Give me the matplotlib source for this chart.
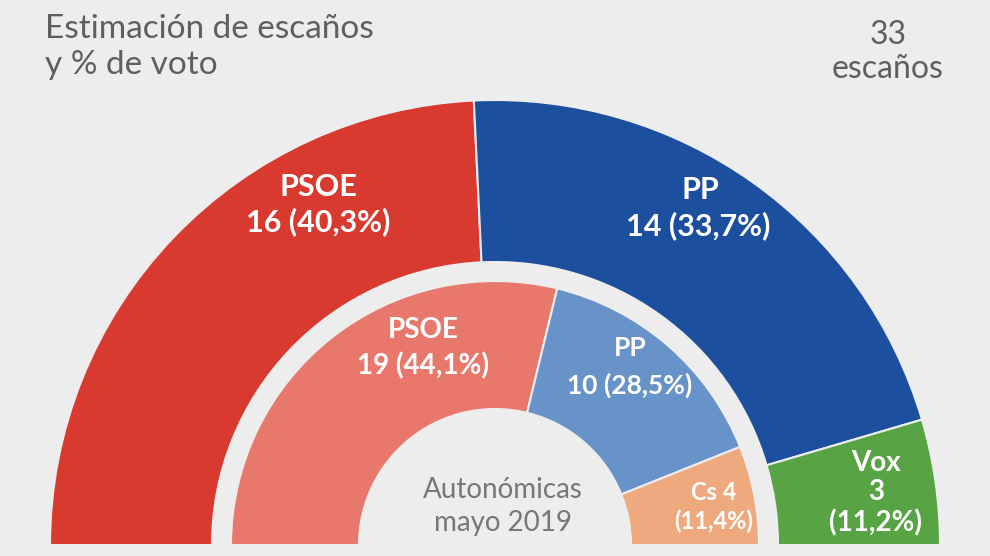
import matplotlib.pyplot as plt

# seats, estimate (outer ring) and May 2019 result (inner ring)
outer_parties = ["PSOE", "PP", "Vox"]
outer_seats = [16, 14, 3]
outer_pct = ["40,3%", "33,7%", "11,2%"]

inner_parties = ["PSOE", "PP", "Cs"]
inner_seats = [19, 10, 4]
inner_pct = ["44,1%", "28,5%", "11,4%"]

total_seats = 33

outer_colors = ["#d93a30", "#1d4f9f", "#58a343"]
inner_colors = ["#e8786c", "#6893c8", "#efa97f"]
bg = "#ededed"
grey = "#5f5f5f"

plt.rcParams['font.family'] = ['Lato', 'DejaVu Sans']

W, H = 990, 556
fig = plt.figure(figsize=(W / 100, H / 100), dpi=100, facecolor=bg)
ax = fig.add_axes([0, 0, 1, 1])
ax.set_facecolor(bg)

cx, cy = 495, 11  # centre of the hemicycle (y measured upward)


def half_ring(values, colors, r, width):
    wedges, _ = ax.pie(values + [sum(values)], colors=colors + ["none"],
                       startangle=180, counterclock=False, radius=r,
                       center=(cx, cy), frame=True,
                       wedgeprops=dict(width=width, edgecolor=bg, linewidth=1.5))
    wedges[-1].set_visible(False)


half_ring(outer_seats, outer_colors, 445, 162)
half_ring(inner_seats, inner_colors, 264, 128)

ax.set_xlim(0, W)
ax.set_ylim(0, H)
ax.set_aspect("equal")
ax.axis("off")


def txt(x, y, s, **kw):
    ax.text(x, H - y, s, ha="center", va="center", **kw)


# outer ring labels
txt(318, 187, outer_parties[0], color="white", fontsize=22, fontweight="bold")
txt(318, 222, f"{outer_seats[0]} ({outer_pct[0]})", color="white", fontsize=22, fontweight="bold")
txt(700, 190, outer_parties[1], color="white", fontsize=22, fontweight="bold")
txt(698, 226, f"{outer_seats[1]} ({outer_pct[1]})", color="white", fontsize=22, fontweight="bold")
txt(876, 463, outer_parties[2], color="white", fontsize=20, fontweight="bold")
txt(876, 492, f"{outer_seats[2]}", color="white", fontsize=20, fontweight="bold")
txt(876, 523, f"({outer_pct[2]})", color="white", fontsize=20, fontweight="bold")

# inner ring labels
txt(423, 330, inner_parties[0], color="white", fontsize=20, fontweight="bold")
txt(423, 366, f"{inner_seats[0]} ({inner_pct[0]})", color="white", fontsize=20, fontweight="bold")
txt(630, 348, inner_parties[1], color="white", fontsize=19, fontweight="bold")
txt(630, 385, f"{inner_seats[1]} ({inner_pct[1]})", color="white", fontsize=19, fontweight="bold")
txt(714, 492, f"{inner_parties[2]} {inner_seats[2]}", color="white", fontsize=17, fontweight="bold")
txt(714, 521, f"({inner_pct[2]})", color="white", fontsize=17, fontweight="bold")

# centre and headers
txt(503, 490, "Autonómicas", color="#777777", fontsize=20)
txt(503, 523, "mayo 2019", color="#777777", fontsize=20)
ax.text(45, H - 47, "Estimación de escaños\ny % de voto", ha="left", va="center",
        color=grey, fontsize=24, linespacing=1.25)
ax.text(888, H - 52, f"{total_seats}\nescaños", ha="center", va="center",
        color=grey, fontsize=23, linespacing=1.2)

fig.savefig("out.png", dpi=100, facecolor=bg)
